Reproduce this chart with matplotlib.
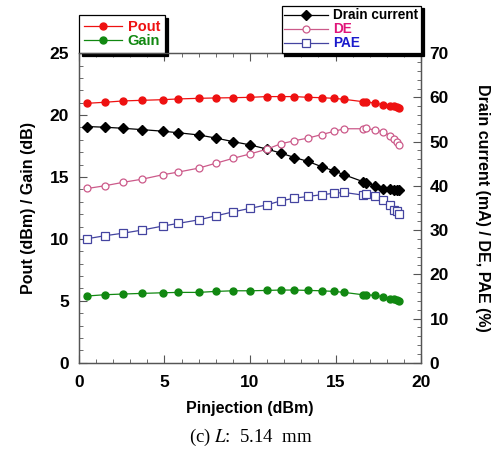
import matplotlib
matplotlib.use("Agg")
import matplotlib.pyplot as plt
from matplotlib.ticker import MultipleLocator

pinj = [0.5, 1.5, 2.6, 3.7, 4.9, 5.8, 7.0, 8.0, 9.0, 10.0, 11.0, 11.8, 12.6,
        13.4, 14.2, 14.9, 15.5, 16.6, 16.8, 17.3, 17.8, 18.2, 18.4, 18.6, 18.7]
pout = [20.95, 21.03, 21.14, 21.19, 21.24, 21.30, 21.35, 21.38, 21.40, 21.43,
        21.49, 21.49, 21.49, 21.43, 21.40, 21.35, 21.27, 21.08, 21.08, 20.95,
        20.84, 20.76, 20.71, 20.65, 20.60]
gain = [5.39, 5.49, 5.55, 5.60, 5.65, 5.68, 5.68, 5.76, 5.81, 5.81, 5.84, 5.87,
        5.87, 5.84, 5.81, 5.76, 5.68, 5.49, 5.49, 5.44, 5.33, 5.17, 5.12, 5.07, 5.01]
drain = [53.4, 53.25, 53.0, 52.7, 52.35, 52.0, 51.5, 50.8, 50.0, 49.25, 48.3,
         47.4, 46.4, 45.5, 44.3, 43.4, 42.5, 40.95, 40.7, 40.0, 39.3, 39.2,
         39.1, 39.1, 39.1]
de = [39.4, 40.0, 40.8, 41.5, 42.5, 43.1, 44.0, 45.1, 46.2, 47.2, 48.3, 49.5,
      50.2, 50.8, 51.6, 52.3, 52.9, 52.9, 53.0, 52.6, 52.2, 51.3, 50.5, 50.0, 49.2]
pae = [28.05, 28.7, 29.3, 30.0, 30.9, 31.5, 32.3, 33.2, 34.1, 34.9, 35.7, 36.6,
       37.2, 37.6, 38.0, 38.3, 38.5, 37.9, 38.2, 37.6, 36.8, 35.7, 34.5, 34.2, 33.6]

plt.rcParams['font.family'] = ['Liberation Sans', 'DejaVu Sans']
plt.rcParams['mathtext.fontset'] = 'stix'

fig = plt.figure(figsize=(4.96, 4.54), dpi=100)
ax = fig.add_axes([0.159, 0.201, 0.690, 0.682])
ax2 = ax.twinx()

red = '#ee1111'
green = '#118811'
pink = '#cc5a8a'
blue = '#4444a0'

l1, = ax.plot(pinj, pout, '-o', color=red, ms=5, lw=0.9, label='Pout')
l2, = ax.plot(pinj, gain, '-o', color=green, ms=5, lw=0.9, label='Gain')
l3, = ax2.plot(pinj, drain, '-D', color='black', ms=5.5, lw=0.9, label='Drain current')
l4, = ax2.plot(pinj, de, '-o', color=pink, mfc='white', mec=pink, ms=5, lw=0.9, mew=0.9, label='DE')
l5, = ax2.plot(pinj, pae, '-s', color=blue, mfc='white', mec=blue, ms=6, lw=0.9, mew=0.9, label='PAE')

ax.set_xlim(0, 20)
ax.set_ylim(0, 25)
ax2.set_ylim(0, 70)
ax.xaxis.set_major_locator(MultipleLocator(5))
ax.xaxis.set_minor_locator(MultipleLocator(1))
ax.yaxis.set_major_locator(MultipleLocator(5))
ax.yaxis.set_minor_locator(MultipleLocator(1))
ax2.yaxis.set_major_locator(MultipleLocator(10))
ax2.yaxis.set_minor_locator(MultipleLocator(2))

for a in (ax, ax2):
    for s in a.spines.values():
        s.set_color('#555555')
        s.set_linewidth(0.9)
ax.tick_params(axis='both', which='both', direction='in', top=True, colors='#555555',
               labelcolor='black', labelsize=12.5)
ax.tick_params(axis='y', which='both', right=False)
ax.tick_params(which='major', length=6)
ax.tick_params(which='minor', length=3)
ax.tick_params(axis='x', which='major', pad=9)
ax.tick_params(axis='y', which='major', pad=7)
ax2.tick_params(axis='y', which='both', direction='in', colors='#555555',
                labelcolor='black', labelsize=12.5)
ax2.tick_params(which='major', length=6, pad=6)
ax2.tick_params(which='minor', length=3)
for lab in ax.get_xticklabels() + ax.get_yticklabels() + ax2.get_yticklabels():
    lab.set_fontweight('bold')

ax.set_xlabel('Pinjection (dBm)', fontsize=11.5, fontweight='bold', labelpad=8)
ax.set_ylabel('Pout (dBm) / Gain (dB)', fontsize=11.5, fontweight='bold', labelpad=10)
ax2.set_ylabel('Drain current (mA) / DE, PAE (%)', fontsize=11.5, fontweight='bold',
               rotation=-90, labelpad=30)

shadow = {'color': 'black', 'alpha': 1}
leg1 = ax.legend(handles=[l1, l2], loc='lower left', bbox_to_anchor=(0.0, 1.0),
                 borderaxespad=0, frameon=True, fancybox=False, shadow=shadow,
                 edgecolor='black', framealpha=1, prop={'weight': 'bold', 'size': 10.5},
                 handlelength=2.6, labelspacing=0.0, borderpad=0.35, handletextpad=0.4)
leg1.get_frame().set_linewidth(0.9)
for t, c in zip(leg1.get_texts(), [red, green]):
    t.set_color(c)

leg2 = ax2.legend(handles=[l3, l4, l5], loc='lower right', bbox_to_anchor=(1.0, 1.0),
                  borderaxespad=0, frameon=True, fancybox=False, shadow=shadow,
                  edgecolor='black', framealpha=1, prop={'weight': 'bold', 'size': 9.8},
                  handlelength=3.2, labelspacing=0.0, borderpad=0.2, handletextpad=0.4)
leg2.get_frame().set_linewidth(0.9)
for t, c in zip(leg2.get_texts(), ['black', '#e0157a', '#1a1acc']):
    t.set_color(c)

fig.text(0.505, 0.037, '(c) $\\mathit{L}$:  5.14  mm', ha='center', va='center',
         fontsize=13.5, family='Liberation Serif')

fig.savefig('out.png', dpi=100)
